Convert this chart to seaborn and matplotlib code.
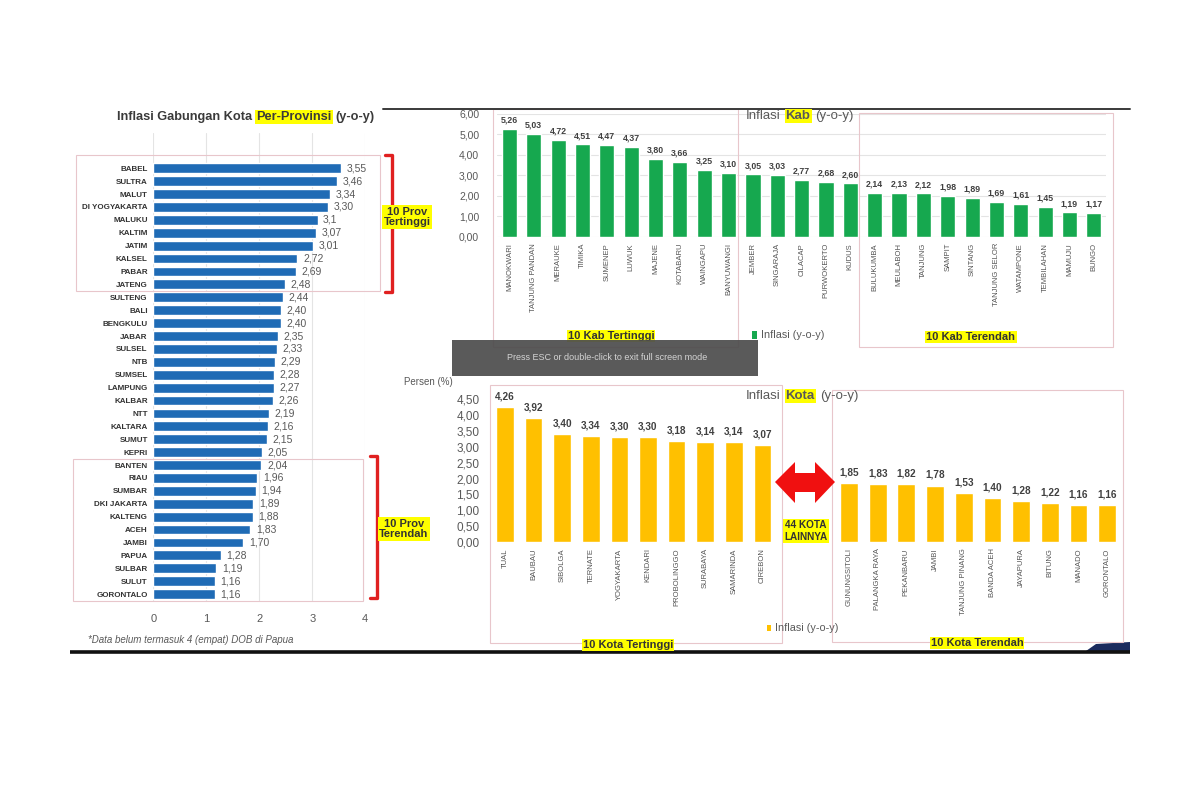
import matplotlib
matplotlib.use('Agg')
import matplotlib.pyplot as plt
import matplotlib.patches as mpatches
import seaborn as sns

# ---------------- data ----------------
prov_names = ["BABEL", "SULTRA", "MALUT", "DI YOGYAKARTA", "MALUKU", "KALTIM", "JATIM",
              "KALSEL", "PABAR", "JATENG", "SULTENG", "BALI", "BENGKULU", "JABAR", "SULSEL",
              "NTB", "SUMSEL", "LAMPUNG", "KALBAR", "NTT", "KALTARA", "SUMUT", "KEPRI",
              "BANTEN", "RIAU", "SUMBAR", "DKI JAKARTA", "KALTENG", "ACEH", "JAMBI", "PAPUA",
              "SULBAR", "SULUT", "GORONTALO"]
prov_vals = [3.55, 3.46, 3.34, 3.30, 3.1, 3.07, 3.01, 2.72, 2.69, 2.48, 2.44, 2.40, 2.40,
             2.35, 2.33, 2.29, 2.28, 2.27, 2.26, 2.19, 2.16, 2.15, 2.05, 2.04, 1.96, 1.94,
             1.89, 1.88, 1.83, 1.70, 1.28, 1.19, 1.16, 1.16]
prov_ticks = [0, 1, 2, 3, 4]

kab_names = ["MANOKWARI", "TANJUNG PANDAN", "MERAUKE", "TIMIKA", "SUMENEP", "LUWUK",
             "MAJENE", "KOTABARU", "WAINGAPU", "BANYUWANGI", "JEMBER", "SINGARAJA",
             "CILACAP", "PURWOKERTO", "KUDUS", "BULUKUMBA", "MEULABOH", "TANJUNG",
             "SAMPIT", "SINTANG", "TANJUNG SELOR", "WATAMPONE", "TEMBILAHAN", "MAMUJU",
             "BUNGO"]
kab_vals = [5.26, 5.03, 4.72, 4.51, 4.47, 4.37, 3.80, 3.66, 3.25, 3.10, 3.05, 3.03, 2.77,
            2.68, 2.60, 2.14, 2.13, 2.12, 1.98, 1.89, 1.69, 1.61, 1.45, 1.19, 1.17]
kab_ticks = [0, 1, 2, 3, 4, 5, 6]

kota_top_names = ["TUAL", "BAUBAU", "SIBOLGA", "TERNATE", "YOGYAKARTA", "KENDARI",
                  "PROBOLINGGO", "SURABAYA", "SAMARINDA", "CIREBON"]
kota_top_vals = [4.26, 3.92, 3.40, 3.34, 3.30, 3.30, 3.18, 3.14, 3.14, 3.07]
kota_low_names = ["GUNUNGSITOLI", "PALANGKA RAYA", "PEKANBARU", "JAMBI", "TANJUNG PINANG",
                  "BANDA ACEH", "JAYAPURA", "BITUNG", "MANADO", "GORONTALO"]
kota_low_vals = [1.85, 1.83, 1.82, 1.78, 1.53, 1.40, 1.28, 1.22, 1.16, 1.16]
kota_ticks = [0, 0.5, 1.0, 1.5, 2.0, 2.5, 3.0, 3.5, 4.0, 4.5]

# ---------------- style ----------------
sns.set_theme(style='white')
plt.rcParams['font.family'] = ['Liberation Sans', 'DejaVu Sans']

BLUE = '#1F6BB5'
GREEN = '#16A84F'
GOLD = '#FFC000'
HL = '#FFFF00'
GRAY = '#595959'
PINK = '#E8C6CB'
RED = '#E02020'

W, H = 1200, 800
fig = plt.figure(figsize=(12, 8), dpi=100)
fig.patch.set_facecolor('white')


def px_axes(l, t, r, b, **kw):
    return fig.add_axes([l / W, 1 - b / H, (r - l) / W, (b - t) / H], **kw)


def comma(v, fmt='{:.2f}'):
    return fmt.format(v).replace('.', ',')


def clean(ax):
    for s in ax.spines.values():
        s.set_visible(False)
    ax.set_xlabel('')
    ax.set_ylabel('')
    ax.patch.set_alpha(0)


# ---------------- province chart ----------------
ax1 = px_axes(153.3, 132.8, 365.3, 600.5)
sns.barplot(x=prov_vals, y=prov_names, orient='h', color=BLUE, saturation=1,
            width=0.76, ax=ax1)
ax1.set_xlim(0, 4)
ax1.set_ylim(len(prov_names) - 0.5, -2.75)
ax1.set_xticks(prov_ticks)
ax1.set_xticklabels([str(t) for t in prov_ticks], fontsize=8, color=GRAY)
ax1.tick_params(axis='x', length=0, pad=10)
ax1.tick_params(axis='y', length=0, pad=4)
for lab in ax1.get_yticklabels():
    lab.set_fontsize(5.8)
    lab.set_fontweight('bold')
    lab.set_color('#333333')
ax1.xaxis.grid(True, color='#e4e4e4', lw=0.8)
ax1.set_axisbelow(True)
clean(ax1)
prov_labels = [comma(v, '{:g}') if n == 'MALUKU' else comma(v)
               for n, v in zip(prov_names, prov_vals)]
ax1.bar_label(ax1.containers[0], labels=prov_labels, padding=4, fontsize=7.5, color=GRAY)

# ---------------- kab chart ----------------
ax2 = px_axes(497.3, 113.7, 1106, 236.7)
sns.barplot(x=kab_names, y=kab_vals, color=GREEN, saturation=1, width=0.62, ax=ax2)
ax2.set_xlim(-0.5, len(kab_names) - 0.5)
ax2.set_ylim(0, 6)
ax2.set_yticks(kab_ticks)
ax2.set_yticklabels([comma(t) for t in kab_ticks], fontsize=7.5, color=GRAY)
ax2.tick_params(axis='y', length=0, pad=13)
ax2.tick_params(axis='x', length=0, pad=4.5)
for lab in ax2.get_xticklabels():
    lab.set_rotation(90)
    lab.set_fontsize(5.5)
    lab.set_color('#555555')
    lab.set_va('top')
ax2.yaxis.grid(True, color='#e4e4e4', lw=0.8)
ax2.set_axisbelow(True)
clean(ax2)
ax2.bar_label(ax2.containers[0], labels=[comma(v) for v in kab_vals], padding=3,
              fontsize=6.3, fontweight='bold', color='#404040')

# ---------------- kota charts ----------------
ax3 = px_axes(490.7, 399.3, 776.7, 542)
sns.barplot(x=kota_top_names, y=kota_top_vals, color=GOLD, saturation=1, width=0.62, ax=ax3)
ax4 = px_axes(834.6, 399.3, 1121.6, 542)
sns.barplot(x=kota_low_names, y=kota_low_vals, color=GOLD, saturation=1, width=0.62, ax=ax4)
for ax, vals in ((ax3, kota_top_vals), (ax4, kota_low_vals)):
    ax.set_xlim(-0.5, len(vals) - 0.5)
    ax.set_ylim(0, 4.5)
    ax.tick_params(axis='x', length=0, pad=4.5)
    for lab in ax.get_xticklabels():
        lab.set_rotation(90)
        lab.set_fontsize(5.5)
        lab.set_color('#555555')
        lab.set_va('top')
    clean(ax)
    ax.bar_label(ax.containers[0], labels=[comma(v) for v in vals], padding=4,
                 fontsize=7.2, fontweight='bold', color='#404040')
ax3.set_yticks(kota_ticks)
ax3.set_yticklabels([comma(t) for t in kota_ticks], fontsize=8.5, color=GRAY)
ax3.tick_params(axis='y', length=0, pad=8)
ax4.set_yticks([])

# ---------------- overlay (pixel coordinates) ----------------
ov = fig.add_axes([0, 0, 1, 1], zorder=10)
ov.set_xlim(0, W)
ov.set_ylim(H, 0)
ov.axis('off')
ov.patch.set_visible(False)


def rect(l, t, r, b, **kw):
    ov.add_patch(mpatches.Rectangle((l, t), r - l, b - t, fill=False, **kw))


def rich(x, y, parts, size, color='#404040', gap=2.5):
    """parts: list of (text, bold, highlighted)"""
    prev = None
    for txt, bold, hl in parts:
        kw = dict(fontsize=size, color=color, fontweight='bold' if bold else 'normal',
                  va='bottom', ha='left')
        if hl:
            kw['bbox'] = dict(boxstyle='square,pad=0.08', fc=HL, ec='none')
        if prev is None:
            prev = ov.text(x, y, txt, **kw)
        else:
            prev = ov.annotate(txt, xy=(1, 0), xycoords=prev, xytext=(gap, 0),
                               textcoords='offset points', **kw)


# top and bottom screen lines
ov.plot([383, 1130], [109, 109], color='#3a3a3a', lw=1.4)
ov.plot([70, 1130], [652, 652], color='#111111', lw=2.6, solid_capstyle='butt')
ov.add_patch(mpatches.Polygon([(1086, 651), (1096, 644), (1130, 642), (1130, 651)],
                              closed=True, fc='#1b2b5e', ec='none'))

# pink group boxes
for box in [(76, 155, 380, 291), (73, 459, 363, 601), (493, 109, 738, 347),
            (859, 113, 1113, 347), (490, 385, 782, 643), (832, 390, 1123, 642)]:
    rect(*box, ec=PINK, lw=0.8)

# red brackets
ov.plot([385, 392, 392, 385], [155, 155, 292, 292], color=RED, lw=2.4)
ov.plot([370, 377, 377, 370], [456, 456, 598, 598], color=RED, lw=2.4)

# titles
rich(117, 123, [("Inflasi Gabungan Kota", True, False), ("Per-Provinsi", True, True),
                ("(y-o-y)", True, False)], 9.2, color='#3a3a3a', gap=3)
rich(746, 122, [("Inflasi", False, False), ("Kab", True, True), ("(y-o-y)", False, False)],
     9.5, color=GRAY, gap=3.5)
rich(746, 402, [("Inflasi", False, False), ("Kota", True, True), ("(y-o-y)", False, False)],
     9.5, color=GRAY, gap=3.5)

hl_box = dict(boxstyle='square,pad=0.1', fc=HL, ec='none')
ov.text(407, 217, "10 Prov\nTertinggi", fontsize=8, fontweight='bold', color='#333333',
        ha='center', va='center', linespacing=1.1, bbox=hl_box)
ov.text(404, 529, "10 Prov\nTerendah", fontsize=8, fontweight='bold', color='#333333',
        ha='center', va='center', linespacing=1.1, bbox=hl_box)
ov.text(611, 336, "10 Kab Tertinggi", fontsize=8, fontweight='bold', color='#333333',
        ha='center', va='center', bbox=hl_box)
ov.text(971, 337, "10 Kab Terendah", fontsize=8, fontweight='bold', color='#333333',
        ha='center', va='center', bbox=hl_box)
ov.text(628, 645, "10 Kota Tertinggi", fontsize=8, fontweight='bold', color='#333333',
        ha='center', va='center', bbox=hl_box)
ov.text(977, 643, "10 Kota Terendah", fontsize=8, fontweight='bold', color='#333333',
        ha='center', va='center', bbox=hl_box)
ov.text(806, 531, "44 KOTA\nLAINNYA", fontsize=7.2, fontweight='bold', color='#333333',
        ha='center', va='center', linespacing=1.15, bbox=hl_box)

# legends
ov.add_patch(mpatches.Rectangle((752, 331), 5, 8, fc=GREEN, ec='none'))
ov.text(761, 335, "Inflasi (y-o-y)", fontsize=7.8, color=GRAY, ha='left', va='center')
ov.add_patch(mpatches.Rectangle((767, 625), 4, 6, fc=GOLD, ec='none'))
ov.text(775, 628, "Inflasi (y-o-y)", fontsize=7.8, color=GRAY, ha='left', va='center')

ov.text(404, 382, "Persen (%)", fontsize=7, color=GRAY, ha='left', va='center')
ov.text(88, 640, "*Data belum termasuk 4 (empat) DOB di Papua", fontsize=7,
        style='italic', color=GRAY, ha='left', va='center')

# red double arrow
ov.add_patch(mpatches.Polygon(
    [(775, 482), (795, 462), (795, 473), (815, 473), (815, 462), (835, 482),
     (815, 503), (815, 492), (795, 492), (795, 503)],
    closed=True, fc='#F01010', ec='none'))

# fullscreen notice overlay
ov.add_patch(mpatches.Rectangle((452, 340), 306, 36, fc='#4d4d4d', ec='none',
                                alpha=0.93, zorder=20))
ov.text(607, 357, "Press ESC or double-click to exit full screen mode", fontsize=6.5,
        color='#d4d4d4', ha='center', va='center', zorder=21)

fig.savefig('out.png', dpi=100, facecolor='white')
